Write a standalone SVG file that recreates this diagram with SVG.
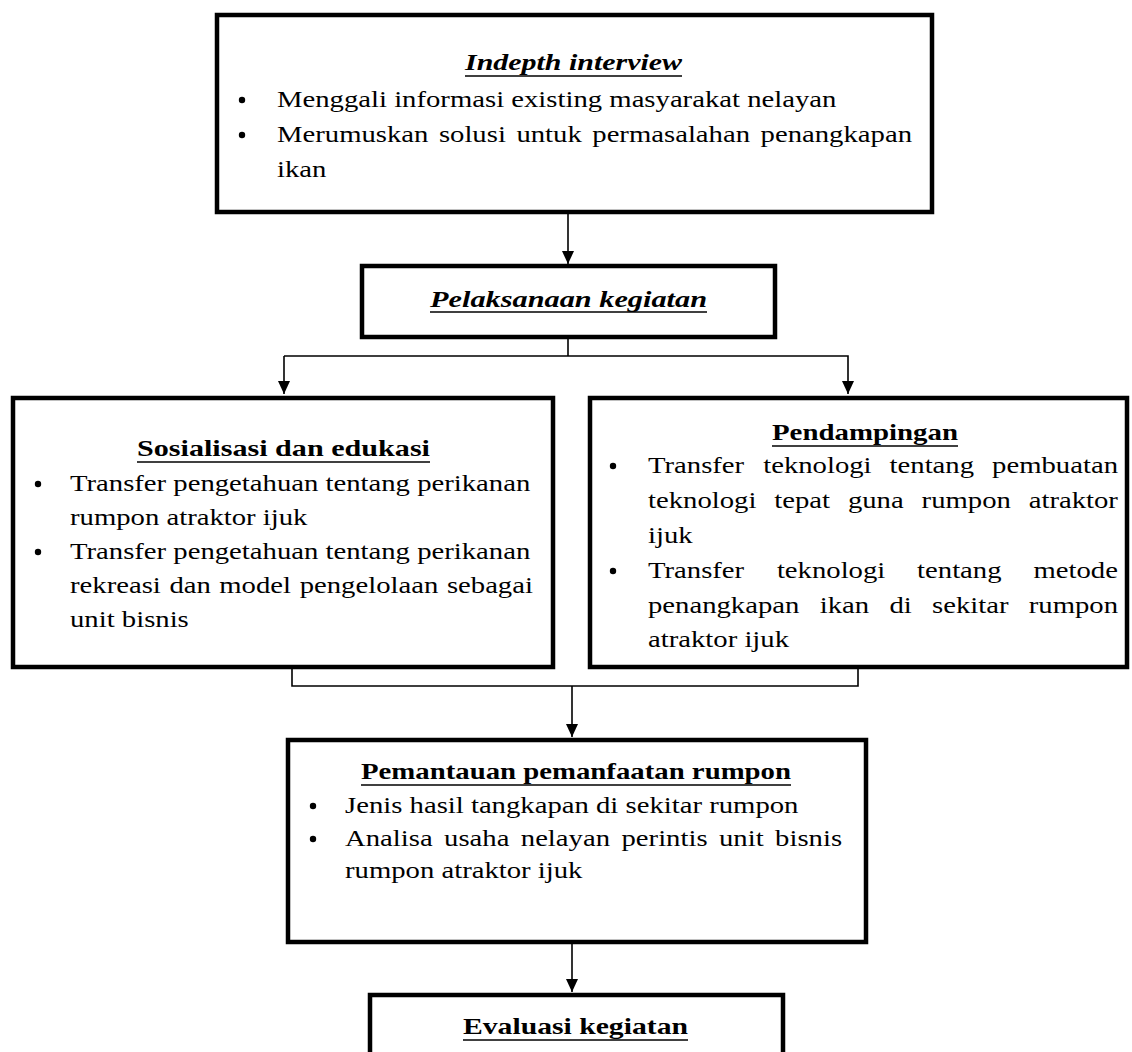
<svg xmlns="http://www.w3.org/2000/svg" width="1132" height="1052" viewBox="0 0 1132 1052">
<style>
.box{fill:#fff;stroke:#000;stroke-width:4.5}
.con{fill:none;stroke:#000;stroke-width:1.6}
.t{font-family:"Liberation Serif","Times New Roman",serif;font-size:23px;fill:#000}
.h{font-family:"Liberation Serif","Times New Roman",serif;font-size:23px;font-weight:bold;fill:#000}
.hi{font-family:"Liberation Serif","Times New Roman",serif;font-size:23px;font-weight:bold;font-style:italic;fill:#000}
.ul{stroke:#000;stroke-width:1.5}
.dot{fill:#000}
</style>
<defs>
<marker id="ah" markerUnits="userSpaceOnUse" markerWidth="14" markerHeight="14" viewBox="0 0 14 14" refX="13" refY="7" orient="auto">
<path d="M0,1 L13,7 L0,13 Z" fill="#000"/>
</marker>
</defs>

<g id="connectors">
<line class="con" x1="568" y1="213" x2="568" y2="264" marker-end="url(#ah)"/>
<polyline class="con" points="568,337 568,356"/>
<polyline class="con" points="284,356 848,356 848,394" marker-end="url(#ah)"/>
<line class="con" x1="284" y1="356" x2="284" y2="394" marker-end="url(#ah)"/>
<polyline class="con" points="292,667 292,686 858,686 858,667"/>
<line class="con" x1="572" y1="686" x2="572" y2="737" marker-end="url(#ah)"/>
<line class="con" x1="572" y1="942" x2="572" y2="992" marker-end="url(#ah)"/>
</g>

<g id="node-indepth">
<rect class="box" x="217" y="15" width="715" height="197"/>
<text class="hi" x="465" y="70" textLength="217" lengthAdjust="spacingAndGlyphs">Indepth interview</text>
<line class="ul" x1="465" y1="76" x2="682" y2="76"/>
<circle class="dot" cx="242" cy="100" r="3.2"/>
<text class="t" transform="scale(1.248 1)" x="221.96" y="107">Menggali informasi existing masyarakat nelayan</text>
<circle class="dot" cx="242" cy="135" r="3.2"/>
<text class="t" transform="scale(1.248 1)" y="142"><tspan x="221.96">Merumuskan</tspan> <tspan x="351.68">solusi</tspan> <tspan x="413.78">untuk</tspan> <tspan x="474.6">permasalahan</tspan> <tspan x="609.46">penangkapan</tspan></text>
<text class="t" transform="scale(1.248 1)" x="221.96" y="177">ikan</text>
</g>

<g id="node-pelaksanaan">
<rect class="box" x="362" y="266" width="413" height="71"/>
<text class="hi" x="430" y="307" textLength="277" lengthAdjust="spacingAndGlyphs">Pelaksanaan kegiatan</text>
<line class="ul" x1="430" y1="312" x2="707" y2="312"/>
</g>

<g id="node-sosialisasi">
<rect class="box" x="13" y="398" width="540" height="269"/>
<text class="h" x="137" y="456" textLength="293" lengthAdjust="spacingAndGlyphs">Sosialisasi dan edukasi</text>
<line class="ul" x1="137" y1="462" x2="430" y2="462"/>
<circle class="dot" cx="38" cy="484" r="3.2"/>
<text class="t" transform="scale(1.248 1)" x="56.09" y="491">Transfer pengetahuan tentang perikanan</text>
<text class="t" transform="scale(1.248 1)" x="56.09" y="525">rumpon atraktor ijuk</text>
<circle class="dot" cx="38" cy="552" r="3.2"/>
<text class="t" transform="scale(1.248 1)" x="56.09" y="559">Transfer pengetahuan tentang perikanan</text>
<text class="t" transform="scale(1.248 1)" y="593"><tspan x="56.09">rekreasi</tspan> <tspan x="135.74">dan</tspan> <tspan x="175.72">model</tspan> <tspan x="240.14">pengelolaan</tspan> <tspan x="358.09">sebagai</tspan></text>
<text class="t" transform="scale(1.248 1)" x="56.09" y="627">unit bisnis</text>
</g>

<g id="node-pendampingan">
<rect class="box" x="590" y="398" width="537" height="269"/>
<text class="h" x="772" y="440" textLength="186" lengthAdjust="spacingAndGlyphs">Pendampingan</text>
<line class="ul" x1="772" y1="446" x2="958" y2="446"/>
<circle class="dot" cx="613" cy="466" r="3.2"/>
<text class="t" transform="scale(1.248 1)" y="473"><tspan x="519.23">Transfer</tspan> <tspan x="611.54">teknologi</tspan> <tspan x="712.82">tentang</tspan> <tspan x="794.95">pembuatan</tspan></text>
<text class="t" transform="scale(1.248 1)" y="508"><tspan x="519.23">teknologi</tspan> <tspan x="620.43">tepat</tspan> <tspan x="679.41">guna</tspan> <tspan x="738.46">rumpon</tspan> <tspan x="824.28">atraktor</tspan></text>
<text class="t" transform="scale(1.248 1)" x="519.23" y="543">ijuk</text>
<circle class="dot" cx="613" cy="571" r="3.2"/>
<text class="t" transform="scale(1.248 1)" y="578"><tspan x="519.23">Transfer</tspan> <tspan x="622.52">teknologi</tspan> <tspan x="734.86">tentang</tspan> <tspan x="828.13">metode</tspan></text>
<text class="t" transform="scale(1.248 1)" y="613"><tspan x="519.23">penangkapan</tspan> <tspan x="656.81">ikan</tspan> <tspan x="712.66">di</tspan> <tspan x="746.79">sekitar</tspan> <tspan x="824.36">rumpon</tspan></text>
<text class="t" transform="scale(1.248 1)" x="519.23" y="647">atraktor ijuk</text>
</g>

<g id="node-pemantauan">
<rect class="box" x="288" y="740" width="578" height="202"/>
<text class="h" x="361" y="779" textLength="430" lengthAdjust="spacingAndGlyphs">Pemantauan pemanfaatan rumpon</text>
<line class="ul" x1="361" y1="785" x2="791" y2="785"/>
<circle class="dot" cx="313" cy="806" r="3.2"/>
<text class="t" transform="scale(1.248 1)" x="276.44" y="813">Jenis hasil tangkapan di sekitar rumpon</text>
<circle class="dot" cx="313" cy="839" r="3.2"/>
<text class="t" transform="scale(1.248 1)" y="846"><tspan x="276.44">Analisa</tspan> <tspan x="355.85">usaha</tspan> <tspan x="417.31">nelayan</tspan> <tspan x="498.0">perintis</tspan> <tspan x="576.12">unit</tspan> <tspan x="621.07">bisnis</tspan></text>
<text class="t" transform="scale(1.248 1)" x="276.44" y="878">rumpon atraktor ijuk</text>
</g>

<g id="node-evaluasi">
<rect class="box" x="370" y="995" width="413" height="100"/>
<text class="h" x="463" y="1034" textLength="225" lengthAdjust="spacingAndGlyphs">Evaluasi kegiatan</text>
<line class="ul" x1="463" y1="1040" x2="688" y2="1040"/>
</g>
</svg>
